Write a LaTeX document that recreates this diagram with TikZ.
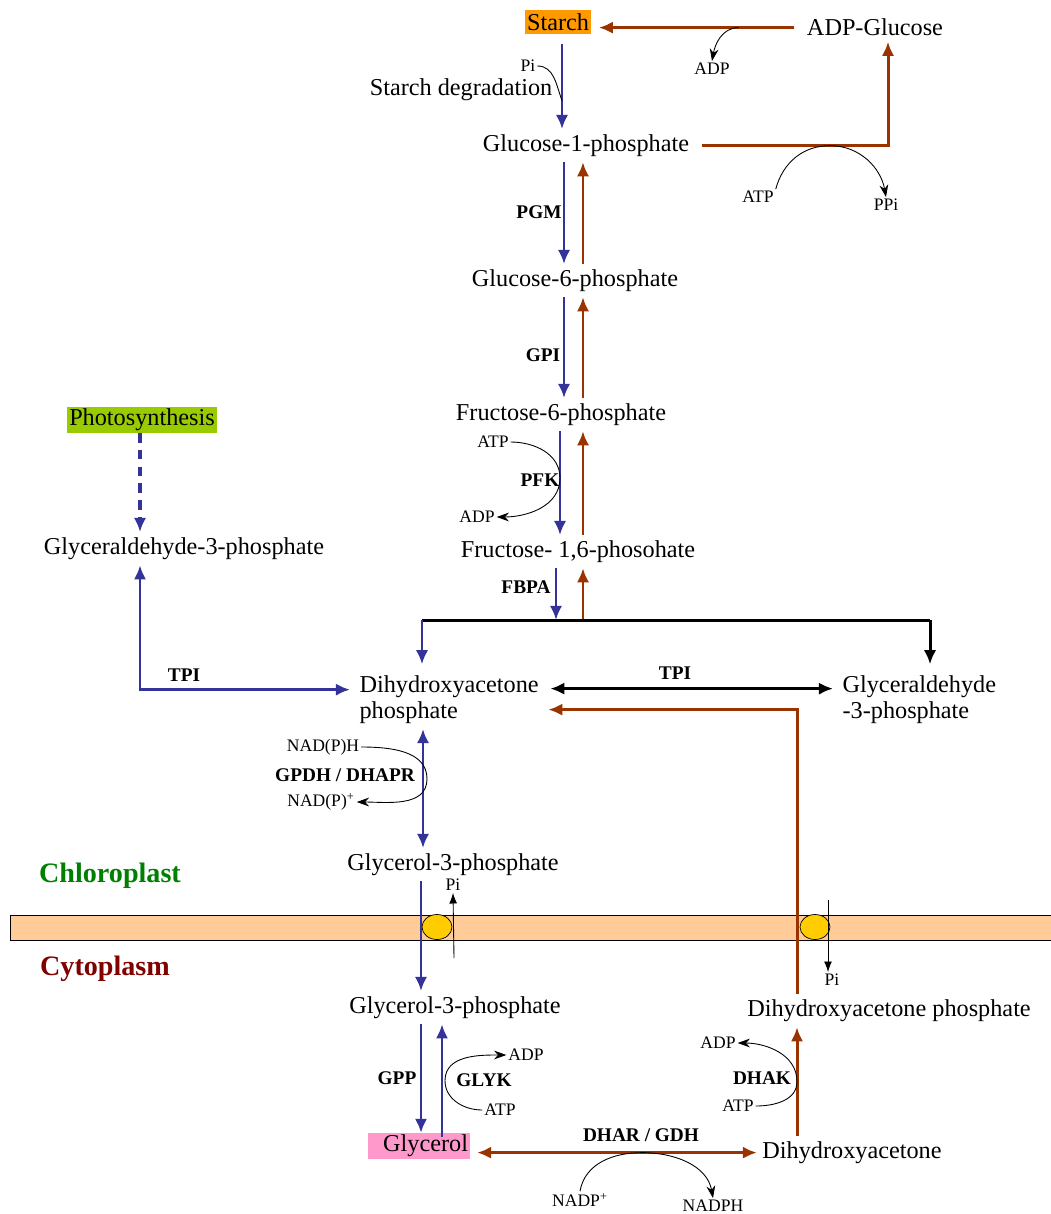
\documentclass[tikz,border=0pt]{standalone}
\usepackage{fontspec}
\setmainfont{Liberation Serif}
\usetikzlibrary{arrows.meta, calc, shapes.geometric}
\definecolor{path-blue}{RGB}{51,51,153}
\definecolor{path-brown}{RGB}{153,51,0}
\definecolor{starch-color}{RGB}{255,153,0}
\definecolor{photo-color}{RGB}{153,204,0}
\definecolor{glycerol-color}{RGB}{255,153,204}
\definecolor{membrane-color}{RGB}{255,204,153}
\definecolor{carrier-color}{RGB}{255,204,0}
\definecolor{chloro-color}{RGB}{0,128,0}
\definecolor{cyto-color}{RGB}{128,0,0}

\begin{document}
\begin{tikzpicture}[x=0.02cm, y=-0.02cm, >={Latex[length=8pt,width=7pt]},
    metab/.style={inner sep=3pt, yshift=-1.5pt, font=\fontsize{13.8}{14.5}\selectfont},
    enzyme/.style={inner sep=1pt, font=\fontsize{11}{13}\selectfont\bfseries},
    cofactor/.style={inner sep=1pt, font=\fontsize{10}{12}\selectfont},
    region/.style={inner sep=1pt, font=\fontsize{16}{19}\selectfont\bfseries},
    tagbox/.style={inner sep=1pt, minimum height=0.5cm, font=\fontsize{13.8}{14.5}\selectfont},
    carrier/.style={ellipse, draw, thin, fill=carrier-color, minimum width=0.6cm, minimum height=0.5cm, inner sep=0pt},
    fwd/.style={->, color=path-blue, line width=1.7pt},
    rev/.style={->, color=path-brown, line width=1.7pt},
    link/.style={->, color=black, line width=1.7pt},
    side/.style={-{Stealth[length=7pt,width=5pt]}, line width=0.5pt},
    tick/.style={line width=0.5pt}]

    \useasboundingbox (0,0) rectangle (1051,1214);

    % Membrane between chloroplast and cytoplasm
    \draw[fill=membrane-color] (10,915) rectangle (1051,940);
    \node[carrier] (car1) at (437,927) {};
    \node[carrier] (car2) at (815,927) {};

    % Columns for the parallel arrows
    \coordinate (colS) at (562,0);
    \coordinate (colA) at (564,0);
    \coordinate (colB) at (583,0);
    \coordinate (colC) at (560,0);
    \coordinate (colD) at (423,0);
    \coordinate (colE) at (421,0);
    \coordinate (colF) at (442,0);
    \coordinate (colL) at (140,0);
    \coordinate (colR) at (797,0);

    % Metabolites
    \node[tagbox, fill=starch-color, minimum width=1.34cm] (starch) at (558,22) {Starch};
    \node[metab] (adpglc) at (875,25) {ADP-Glucose};
    \node[metab] (starchdeg) at (461,87) {Starch degradation};
    \node[metab] (g1p) at (586,143) {Glucose-1-phosphate};
    \node[metab] (g6p) at (575,278) {Glucose-6-phosphate};
    \node[metab] (f6p) at (561,412) {Fructose-6-phosphate};
    \node[metab] (f16bp) at (578,549) {Fructose- 1,6-phosohate};
    \node[tagbox, fill=photo-color, minimum width=2.88cm] (photo) at (142,420) {Photosynthesis};
    \node[metab] (gapl) at (184,546) {Glyceraldehyde-3-phosphate};
    \node[metab, anchor=west, align=left] (dhap) at (354,697) {Dihydroxyacetone\\phosphate};
    \node[metab, anchor=west, align=left] (gapr) at (837,697) {Glyceraldehyde\\-3-phosphate};
    \node[metab] (g3pc) at (453,862) {Glycerol-3-phosphate};
    \node[metab] (g3py) at (455,1005) {Glycerol-3-phosphate};
    \node[metab] (dhapy) at (889,1008) {Dihydroxyacetone phosphate};
    \node[tagbox, fill=glycerol-color, text width=1.96cm, align=right] (glycerol) at (419,1146) {Glycerol};
    \node[metab] (dha) at (852,1150) {Dihydroxyacetone};

    % Compartments
    \node[region, text=chloro-color] (chloro) at (110,876) {Chloroplast};
    \node[region, text=cyto-color] (cyto) at (105,969) {Cytoplasm};

    % Enzymes
    \node[enzyme] (pgm) at (539,212) {PGM};
    \node[enzyme] (gpi) at (543,355) {GPI};
    \node[enzyme] (pfk) at (540,480) {PFK};
    \node[enzyme] (fbpa) at (526,587) {FBPA};
    \node[enzyme] (tpil) at (184,675) {TPI};
    \node[enzyme] (tpir) at (675,673) {TPI};
    \node[enzyme] (gpdh) at (345,775) {GPDH / DHAPR};
    \node[enzyme] (gpp) at (397,1078) {GPP};
    \node[enzyme] (glyk) at (484,1080) {GLYK};
    \node[enzyme] (dhar) at (641,1135) {DHAR / GDH};
    \node[enzyme] (dhak) at (762,1078) {DHAK};

    % Cofactors
    \node[cofactor] (pi1) at (528,66) {Pi};
    \node[cofactor] (adp1) at (712,69) {ADP};
    \node[cofactor] (atp1) at (758,197) {ATP};
    \node[cofactor] (ppi) at (886,205) {PPi};
    \node[cofactor] (atp2) at (493,442) {ATP};
    \node[cofactor] (adp2) at (477,517) {ADP};
    \node[cofactor] (nadph1) at (323,747) {NAD(P)H};
    \node[cofactor] (nadp1) at (321,802) {NAD(P)\textsuperscript{+}};
    \node[cofactor] (pi2) at (453,885) {Pi};
    \node[cofactor] (pi3) at (832,980) {Pi};
    \node[cofactor] (adp4) at (526,1055) {ADP};
    \node[cofactor] (atp4) at (500,1110) {ATP};
    \node[cofactor] (adp5) at (718,1043) {ADP};
    \node[cofactor] (atp5) at (738,1106) {ATP};
    \node[cofactor] (nadp2) at (580,1200) {NADP\textsuperscript{+}};
    \node[cofactor] (nadph2) at (713,1206) {NADPH};

    % Starch branch
    \draw[rev, shorten <=4pt, shorten >=4pt] (adpglc.west) -- coordinate[pos=0.3] (kAdp) (adpglc.west -| starch.east);
    \draw[side] (kAdp) to[out=180,in=80] (adp1.north);
    \draw[fwd, shorten <=5pt] (starch.south -| colS) -- coordinate[pos=0.7] (kPi) (g1p.north -| colS);
    \draw[tick] (pi1.east) to[out=0,in=110] (kPi);
    \draw[rev, shorten <=4pt] (g1p.east) -| coordinate[pos=0.35] (kAtp) ($(adpglc.south)+(13,0)$);
    \draw[side] (atp1.north east) to[out=75,in=180] (kAtp) to[out=0,in=100] (ppi.north);

    % Glycolysis column
    \draw[fwd] (g1p.south -| colA) -- (g6p.north -| colA);
    \draw[rev] (g6p.north -| colB) -- (g1p.south -| colB);
    \draw[fwd] (g6p.south -| colA) -- (f6p.north -| colA);
    \draw[rev] (f6p.north -| colB) -- (g6p.south -| colB);
    \draw[fwd] (f6p.south -| colC) -- coordinate[pos=0.45] (kPfk) (f16bp.north -| colC);
    \draw[rev] (f16bp.north -| colB) -- (f6p.south -| colB);
    \draw[side] (atp2.east) to[out=0,in=90] (kPfk) to[out=-90,in=0] (adp2.east);

    % Aldolase split
    \coordinate (split) at (556,620);
    \coordinate (splitl) at (422,620);
    \coordinate (splitr) at (930,620);
    \draw[fwd] (f16bp.south -| split) -- (split);
    \draw[rev, shorten <=0pt] (split -| colB) -- (f16bp.south -| colB);
    \draw[line width=1.7pt] (splitl) -- (splitr);
    \draw[fwd] (splitl) -- ($(dhap.north -| splitl)+(0,-6)$);
    \draw[link] (splitr) -- ($(gapr.north -| splitr)+(0,-6)$);

    % Triose phosphate isomerase
    \draw[link, <->] ($(dhap.east)+(6,-11)$) -- ($(gapr.west)+(-4,-11)$);
    \draw[fwd, <->] (gapl.south -| colL) |- ($(dhap.west)+(-4,-10)$);
    \draw[fwd, dash pattern=on 5.5pt off 4pt, line width=2.2pt] (photo.south -| colL) -- (gapl.north -| colL);

    % Glycerol-3-phosphate in the chloroplast
    \draw[fwd, <->] (dhap.south -| colD) -- coordinate[pos=0.42] (kGpdh) (g3pc.north -| colD);
    \draw[side] (nadph1.east) to[out=0,in=90] ($(kGpdh)+(4,0)$) to[out=-90,in=0] (nadp1.east);

    % Transport over the membrane
    \draw[fwd] (g3pc.south -| colE) -- (g3py.north -| colE);
    \coordinate (piup) at (454,958);
    \draw[side, -{Latex[length=6pt,width=4.5pt]}] (piup) -- (pi2.south);
    \coordinate (pidown) at (828,900);
    \draw[side, -{Latex[length=6pt,width=4.5pt]}] (pidown) -- (pidown |- pi3.north);
    \draw[rev] (dhapy.north -| colR) |- ($(dhap.east)+(4,10)$);

    % Cytoplasm reactions
    \draw[fwd] (g3py.south -| colE) -- (glycerol.north -| colE);
    \draw[fwd] ($(glycerol.north -| colF)+(0,4)$) -- coordinate[pos=0.5] (kGlyk) (g3py.south -| colF);
    \draw[side] (atp4.west) to[out=180,in=-90] ($(kGlyk)+(3,0)$) to[out=90,in=180] (adp4.west);
    \draw[rev, <->, shorten <=4pt] (dha.west -| glycerol.east) -- coordinate[pos=0.6] (kDhar) (dha.west);
    \draw[side] (nadp2.north) to[out=80,in=180] (kDhar) to[out=0,in=100] (nadph2.north);
    \draw[rev] (dha.north -| colR) -- coordinate[pos=0.5] (kDhak) (dhapy.south -| colR);
    \draw[side] (atp5.east) to[out=0,in=-90] (kDhak) to[out=90,in=0] (adp5.east);
\end{tikzpicture}
\end{document}
